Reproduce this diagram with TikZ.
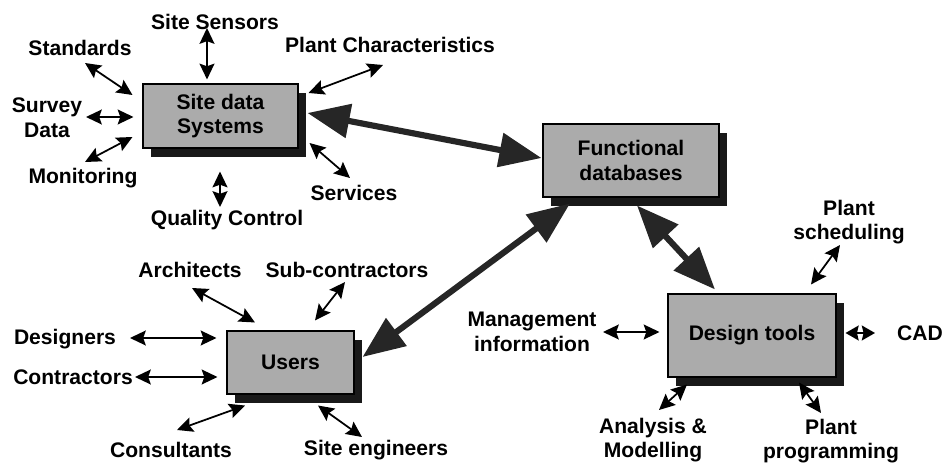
\documentclass[tikz,border=0pt]{standalone}
\usepackage{fontspec}
\setmainfont{Liberation Sans}
\usetikzlibrary{arrows.meta,shadows,calc}

\begin{document}
\begin{tikzpicture}[x=0.02cm,y=-0.02cm,
	box/.style={draw,line width=0.6pt,fill=black!33,align=center,inner sep=2pt,
		font=\fontsize{12}{14}\selectfont\bfseries,
		drop shadow={shadow xshift=0.16cm,shadow yshift=-0.18cm,fill=black!90,opacity=1}},
	lbl/.style={align=center,inner sep=1pt,font=\fontsize{12}{14}\selectfont\bfseries},
	link/.style={line width=1pt,{Stealth[length=9pt,width=8.5pt,inset=1.5pt]}-{Stealth[length=9pt,width=8.5pt,inset=1.5pt]}},
	trunk/.style={line width=3.5pt,black!85,{Triangle[length=24pt,width=19pt]}-{Triangle[length=24pt,width=19pt]}}]
	\useasboundingbox (0,0) rectangle (950,465);
	% the four systems
	\node[box,minimum width=3.1cm,minimum height=1.28cm] (sd) at (220.5,116) {Site data\\Systems};
	\node[box,minimum width=3.52cm,minimum height=1.46cm] (func) at (631,160.5) {Functional\\databases};
	\node[box,minimum width=2.54cm,minimum height=1.26cm] (users) at (290.5,362.5) {Users};
	\node[box,minimum width=3.36cm,minimum height=1.66cm] (design) at (752,335.5) {Design tools};
	% labels round them
	\node[lbl] (sens) at (215,22) {Site Sensors};
	\node[lbl] (std) at (80,48) {Standards};
	\node[lbl] (survey) at (47,118) {Survey\\Data};
	\node[lbl] (mon) at (83,178) {Monitoring};
	\node[lbl] (qc) at (227,220) {Quality Control};
	\node[lbl] (plantc) at (390,45) {Plant Characteristics};
	\node[lbl] (serv) at (354,193) {Services};
	\node[lbl] (arch) at (190,270) {Architects};
	\node[lbl] (sub) at (347,270) {Sub-contractors};
	\node[lbl] (des) at (65,339) {Designers};
	\node[lbl] (con) at (73,377) {Contractors};
	\node[lbl] (cons) at (171,450) {Consultants};
	\node[lbl] (eng) at (376,450) {Site engineers};
	\node[lbl] (mgmt) at (532,332) {Management\\information};
	\node[lbl] (cad) at (920,333) {CAD};
	\node[lbl] (sched) at (849,222) {Plant\\scheduling};
	\node[lbl] (ana) at (653,440) {Analysis \&\\Modelling};
	\node[lbl] (prog) at (831,441) {Plant\\programming};
	% main links
	\draw[trunk] ($(sd.east)+(9,-3)$) -- ($(func.west)+(-1,-2.5)$);
	\draw[trunk] ($(func.south)+(-61,6)$) -- ($(users.east)+(8,-5.5)$);
	\draw[trunk] ($(func.south)+(6,8)$) -- ($(design.north)+(-37,-4)$);
	% small links
	\foreach \a/\da/\b/\db in {sens/{-8,6}/sd.north/{-13.5,-4},
		std/{5,15}/sd.west/{-10,-21}, survey/{39,-1}/sd.west/{-9,1},
		mon/{2,-16}/sd.west/{-10,21}, qc/{-7,-13}/sd.south/{-0.5,23},
		plantc/{-7,20}/sd.east/{10,-23}, serv/{-4,-15}/sd.east/{11,27},
		arch/{2,18}/users.north/{-35.5,-8}, sub/{-2,12}/users.north/{24.5,-10},
		des/{65,-1}/users.west/{-10,-24.5}, con/{62,0}/users.west/{-9,14.5},
		cons/{6,-20}/users.south/{-45.5,11}, eng/{-14,-13}/users.south/{27.5,11},
		mgmt/{71,0}/design.west/{-8,-3.5},
		sched/{-9,23}/design.north/{59,-9}, ana/{6,-30}/design.south/{-65,7},
		prog/{-10,-28}/design.south/{47,5}}
		\draw[link] ($(\a)+(\da)$) -- ($(\b)+(\db)$);
	\draw[line width=1pt,{Stealth[length=7.5pt,width=8.5pt,inset=1pt]}-{Stealth[length=7.5pt,width=8.5pt,inset=1pt]}]
		($(cad)+(-45,0)$) -- ($(design.east)+(9,-2.5)$);
\end{tikzpicture}
\end{document}
